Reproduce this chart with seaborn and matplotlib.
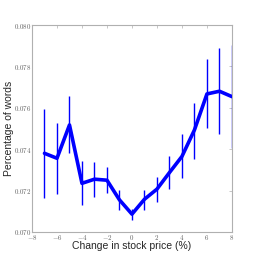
import numpy as np
import pandas as pd
import matplotlib
matplotlib.use('Agg')
import matplotlib.pyplot as plt
import seaborn as sns

# change in stock price (%) and share of words, with error bar ends
change = [-7, -6, -5, -4, -3, -2, -1, 0, 1, 2, 3, 4, 5, 6, 7, 8]
share = [0.07380, 0.07356, 0.07517, 0.07235, 0.07255, 0.07250, 0.07155, 0.07086,
         0.07158, 0.07207, 0.07287, 0.07365, 0.07493, 0.07667, 0.07680, 0.07654]
err_top = [0.07593, 0.07528, 0.07658, 0.07343, 0.07337, 0.07313, 0.07203, 0.07112,
           0.07203, 0.07265, 0.07368, 0.07474, 0.07625, 0.07834, 0.07887, 0.07903]
err_bot = [0.07163, 0.07182, 0.07380, 0.07130, 0.07171, 0.07187, 0.07104, 0.07060,
           0.07106, 0.07144, 0.07207, 0.07263, 0.07354, 0.07501, 0.07472, 0.07407]

xticks = [-8, -6, -4, -2, 0, 2, 4, 6, 8]
xtick_labels = [r'$-8$', r'$-6$', r'$-4$', r'$-2$', r'$0$', r'$2$', r'$4$', r'$6$', r'$8$']
yticks = [0.070, 0.072, 0.074, 0.076, 0.078, 0.080]
ytick_labels = [r'$0.070$', r'$0.072$', r'$0.074$', r'$0.076$', r'$0.078$', r'$0.080$']

df = pd.DataFrame({'change': change, 'share': share, 'top': err_top, 'bot': err_bot})

sns.set_style('white')
plt.rcParams['font.family'] = ['Liberation Sans', 'DejaVu Sans']
plt.rcParams['mathtext.fontset'] = 'cm'

fig = plt.figure(figsize=(2.58, 2.58), dpi=100)
ax = fig.add_axes([0.124, 0.101, 0.775, 0.802])

ax.vlines(df['change'], df['bot'], df['top'], color='#0000ff', linewidth=1.0, zorder=2)
sns.lineplot(data=df, x='change', y='share', color='#0000ff', linewidth=2.6, ax=ax, zorder=3)

ax.set_xlim(-8, 8)
ax.set_ylim(0.070, 0.080)
ax.set_xticks(xticks)
ax.set_xticklabels(xtick_labels)
ax.set_yticks(yticks)
ax.set_yticklabels(ytick_labels)
ax.tick_params(direction='in', length=2, width=0.5, color='#b0b0b0',
               labelsize=5, labelcolor='#606060', top=True, right=True, pad=0.5)
for s in ax.spines.values():
    s.set_color('#b0b0b0')
    s.set_linewidth(0.8)

ax.set_xlabel('Change in stock price (%)', fontsize=7.5)
ax.set_ylabel('Percentage of words', fontsize=7.5)
ax.xaxis.set_label_coords(0.5, -0.045)
ax.yaxis.set_label_coords(-0.088, 0.5)

fig.savefig('out.png', dpi=100)
